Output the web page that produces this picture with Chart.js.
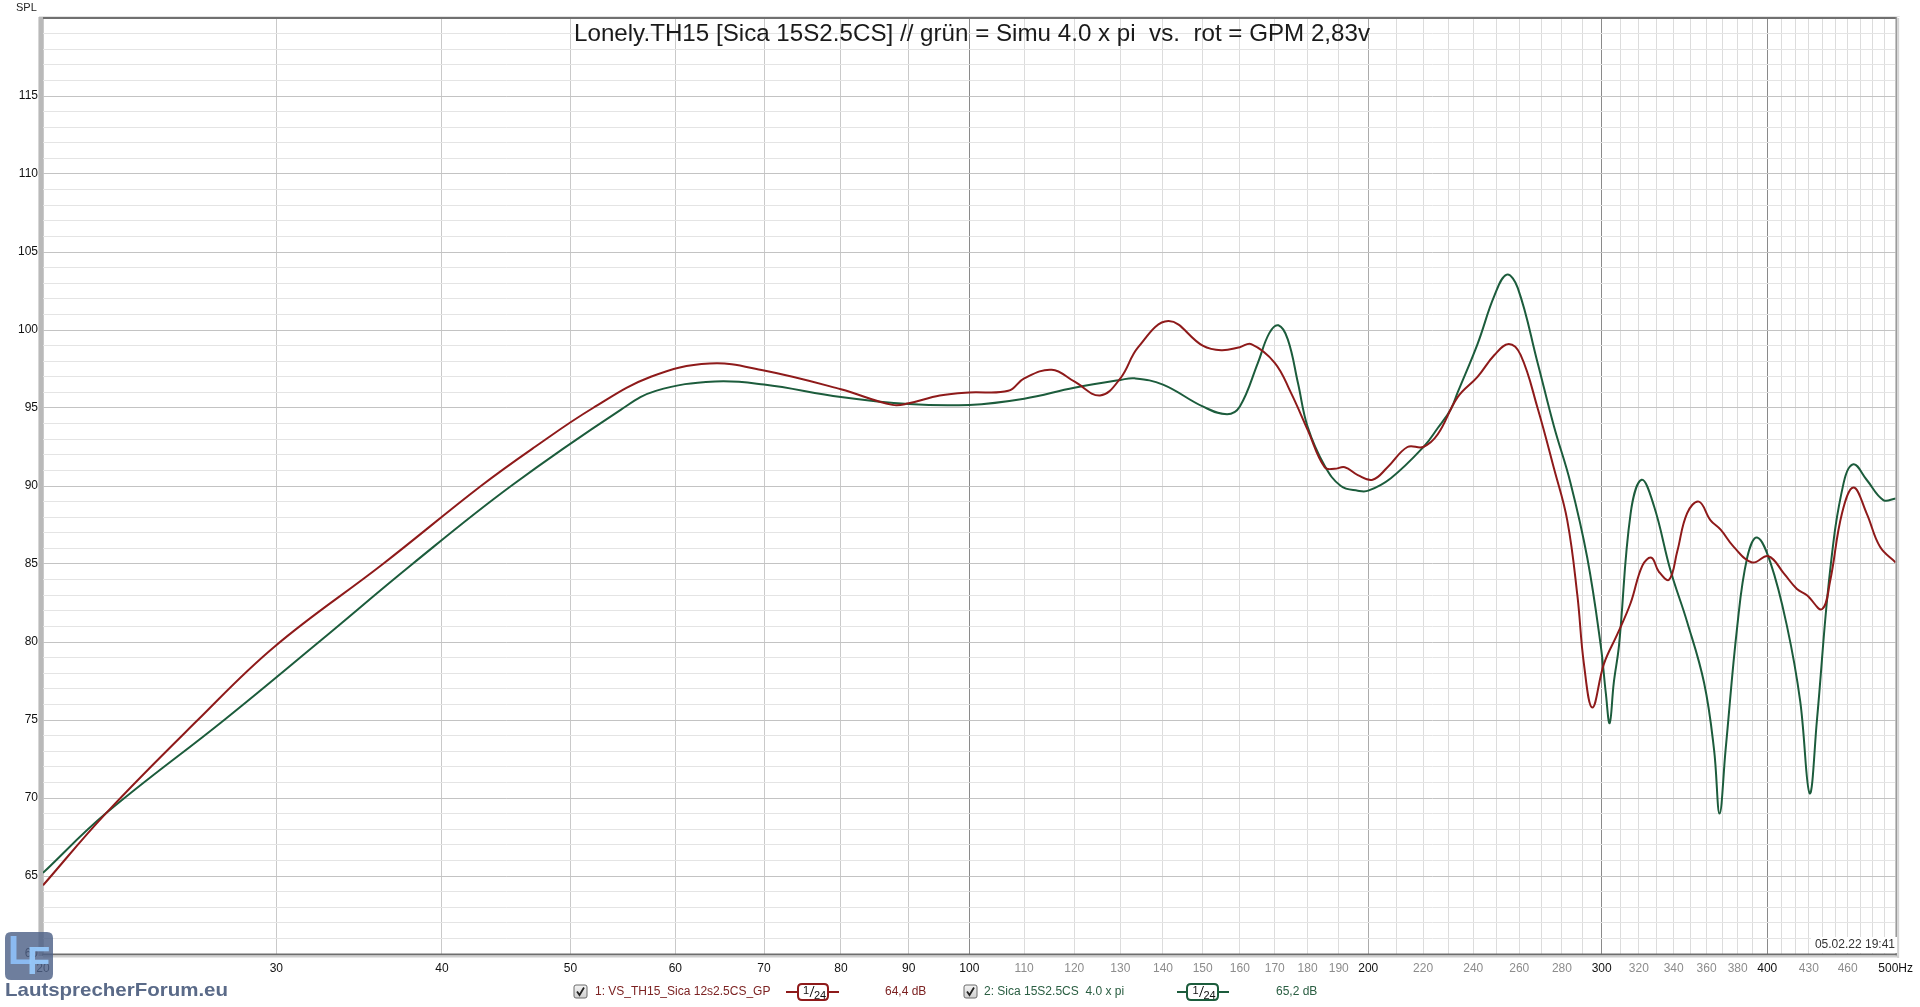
<!DOCTYPE html>
<html><head><meta charset="utf-8">
<script src="https://cdn.jsdelivr.net/npm/chart.js@4.4.0/dist/chart.umd.min.js"></script>
<style>html,body{margin:0;padding:0;background:#fff;overflow:hidden}canvas{display:block}</style>
</head><body>
<canvas id="c" width="1920" height="1007"></canvas>
<script>
// ---- data (Hz, dB SPL) ----
const redFreq = [20,22.3,26.1,29.9,36.1,42.8,47,52,57.5,63.7,70,80,87.5,90,95,100,107,110,115.4,120,125.5,130,134.1,141.3,150,154.9,160,163.2,170,174.8,180,185.4,188.6,192,196.4,201.5,206.8,214.1,220,225.6,233.6,241.8,249,255.3,260.6,268.4,276.2,282.6,287.6,290.9,295.2,301.2,308.3,315.5,322,327.1,331.4,337.3,342.1,348,355.2,362.5,368.9,377.4,389.6,400.9,411.7,421.2,428.6,439.9,446.2,455.5,464.7,475.4,486.6,500];
const redSpl = [64.4,69.0,74.9,79.7,85.0,90.0,92.5,95.0,97.0,97.85,97.4,96.2,95.2,95.3,95.8,96.0,96.1,96.9,97.45,96.7,95.8,96.9,98.9,100.57,99.0,98.7,98.9,99.1,97.9,96.0,93.6,91.2,91.1,91.2,90.7,90.4,91.2,92.5,92.5,93.3,95.7,97.0,98.4,99.1,98.4,95.0,91.1,87.8,83.0,78.6,75.8,78.6,80.5,82.5,84.9,85.4,84.5,84.0,85.8,88.25,89.0,87.8,87.2,86.1,85.1,85.5,84.4,83.4,83.0,82.1,83.9,88.25,89.9,88.25,86.1,85.1];
const greenFreq = [20,22.3,27.4,32.3,38,45.1,54.6,58,64.3,70,80,90,100,110,120,130,133.3,140,150,156.5,160,165.1,168.4,171.1,173.9,177,180,185.4,190.7,196.4,200,208,220.4,225.6,230.8,233.6,241.8,249,254.4,259.3,268.4,276.2,284.2,292.6,299.5,302.2,304.2,306.4,309.2,315.5,321.6,328.6,338.1,348,358.4,364.7,368.2,372.1,379.7,386.3,393,402.2,414,423.6,430.6,436.1,446.2,456.8,464.7,475.4,489.4,500];
const greenSpl = [65.2,69.0,75.0,80.0,85.0,90.0,94.9,96.1,96.7,96.5,95.7,95.25,95.2,95.6,96.3,96.8,96.9,96.5,95.1,94.6,95.1,97.9,99.8,100.3,99.4,96.6,93.8,91.3,90.0,89.7,89.7,90.5,92.55,93.7,94.9,96.0,99.1,102.2,103.55,102.7,97.9,93.8,90.2,85.4,79.8,76.7,74.8,77.4,79.8,88.25,90.4,88.7,84.6,81.3,77.4,73.1,69.0,73.1,81.0,85.4,86.7,85.1,81.0,76.2,70.3,75.0,84.6,90.2,91.4,90.4,89.1,89.2];

// ---- axis ticks ----
const xGridValues = [20,30,40,50,60,70,80,90,100,110,120,130,140,150,160,170,180,190,200,210,220,230,240,250,260,270,280,290,300,310,320,330,340,350,360,370,380,390,400,410,420,430,440,450,460,470,480,490,500];
const xLabelValues = [20,30,40,50,60,70,80,90,100,110,120,130,140,150,160,170,180,190,200,220,240,260,280,300,320,340,360,380,400,430,460,500];
const xLabelTexts  = ['20','30','40','50','60','70','80','90','100','110','120','130','140','150','160','170','180','190','200','220','240','260','280','300','320','340','360','380','400','430','460','500Hz'];
const xStrongValues = [20,30,40,50,60,70,80,90,100,200,300,400,500];
const yLabelValues = [60,65,70,75,80,85,90,95,100,105,110,115];
const yMin = 60, yMax = 120;

const titleText = 'Lonely.TH15 [Sica 15S2.5CS] // grün = Simu 4.0 x pi  vs.  rot = GPM 2,83v';
const series1Name = '1: VS_TH15_Sica 12s2.5CS_GP';
const series2Name = '2: Sica 15S2.5CS  4.0 x pi';
const series1Value = '64,4 dB';
const series2Value = '65,2 dB';
const smoothingText = ['1', '24'];
const dateText = '05.02.22 19:41';
const yAxisTitle = 'SPL';
const siteText = 'LautsprecherForum.eu';

const RED = '#8e1a1a', GREEN = '#1c5c3c';
const FONT = '"Liberation Sans", Arial, sans-serif';

const xLabelMap = {};
xLabelValues.forEach((v, i) => { xLabelMap[v] = xLabelTexts[i]; });

function xGridColor(v) {
  if (v === 100 || v === 300 || v === 400) return '#8a8a8a';
  if (v === 200) return '#ababab';
  if (v < 100) return '#c9c9c9';
  return '#dcdcdc';
}

function rrect(ctx, x, y, w, h, r) {
  ctx.beginPath();
  ctx.moveTo(x + r, y);
  ctx.lineTo(x + w - r, y); ctx.quadraticCurveTo(x + w, y, x + w, y + r);
  ctx.lineTo(x + w, y + h - r); ctx.quadraticCurveTo(x + w, y + h, x + w - r, y + h);
  ctx.lineTo(x + r, y + h); ctx.quadraticCurveTo(x, y + h, x, y + h - r);
  ctx.lineTo(x, y + r); ctx.quadraticCurveTo(x, y, x + r, y);
  ctx.closePath();
}

function drawCheckbox(ctx, x, y) {
  const g = ctx.createLinearGradient(x, y, x, y + 13);
  g.addColorStop(0, '#f4f4f4'); g.addColorStop(1, '#cfcfcf');
  rrect(ctx, x, y, 13, 13, 2);
  ctx.fillStyle = g; ctx.fill();
  ctx.strokeStyle = '#6a6a6a'; ctx.lineWidth = 1; ctx.stroke();
  ctx.beginPath();
  ctx.moveTo(x + 3, y + 6.5); ctx.lineTo(x + 5.5, y + 10); ctx.lineTo(x + 10, y + 2.5);
  ctx.strokeStyle = '#222'; ctx.lineWidth = 1.8; ctx.stroke();
}

function drawSmoothSymbol(ctx, x1, x2, bx1, bx2, y, color) {
  ctx.strokeStyle = color; ctx.lineWidth = 2;
  ctx.beginPath(); ctx.moveTo(x1, y); ctx.lineTo(x2, y); ctx.stroke();
  rrect(ctx, bx1, y - 8, bx2 - bx1, 16, 4);
  ctx.fillStyle = '#fff'; ctx.fill();
  ctx.lineWidth = 2; ctx.stroke();
  ctx.fillStyle = '#111';
  ctx.textBaseline = 'alphabetic'; ctx.textAlign = 'left';
  const cx = (bx1 + bx2) / 2;
  ctx.font = '11px ' + FONT;
  ctx.fillText(smoothingText[0], cx - 10, y + 2);
  ctx.beginPath(); ctx.moveTo(cx - 3, y + 5); ctx.lineTo(cx + 1, y - 6);
  ctx.strokeStyle = '#111'; ctx.lineWidth = 1; ctx.stroke();
  ctx.fillText(smoothingText[1], cx + 1, y + 7);
}

const decor = {
  id: 'decor',
  beforeDraw(chart) {
    const ctx = chart.ctx;
    ctx.save(); ctx.fillStyle = '#fff'; ctx.fillRect(0, 0, chart.width, chart.height); ctx.restore();
  },
  afterDraw(chart) {
    const ctx = chart.ctx;
    const a = chart.chartArea;
    ctx.save();
    // frame
    ctx.fillStyle = '#e4e4e4'; ctx.fillRect(a.left - 4, a.top - 2, a.right - a.left + 8, 1);
    ctx.fillStyle = '#707070'; ctx.fillRect(a.left - 3, a.top - 1, a.right - a.left + 4, 2);
    ctx.fillStyle = '#b9b9b9'; ctx.fillRect(a.left - 4, a.top - 1, 4, a.bottom - a.top + 3);
    ctx.fillStyle = '#d6d6d6'; ctx.fillRect(a.left - 5, a.top - 1, 1, a.bottom - a.top + 3);
    ctx.fillStyle = '#9a9a9a'; ctx.fillRect(a.right, a.top - 1, 1.5, a.bottom - a.top + 3);
    ctx.fillStyle = '#d4d4d4'; ctx.fillRect(a.right + 1.5, a.top, 2, a.bottom - a.top + 4);
    ctx.fillStyle = '#6e6e6e'; ctx.fillRect(a.left - 1, a.bottom - 0.5, a.right - a.left + 2, 2);
    ctx.fillStyle = '#cfcfcf'; ctx.fillRect(a.left, a.bottom + 1.5, a.right - a.left + 3, 2);

    // title
    ctx.font = '21px ' + FONT;
    ctx.fillStyle = '#1a1a1a';
    ctx.textAlign = 'left'; ctx.textBaseline = 'alphabetic';
    const tw = ctx.measureText(titleText).width;
    const sx = 796 / tw;
    ctx.save(); ctx.translate(574, 41); ctx.scale(sx, 1.1); ctx.fillText(titleText, 0, 0); ctx.restore();

    // SPL
    ctx.font = '11px ' + FONT; ctx.fillStyle = '#222';
    ctx.textBaseline = 'middle';
    ctx.fillText(yAxisTitle, 16, 8);

    // date stamp
    ctx.fillStyle = '#fff'; ctx.fillRect(1811, 937, 86, 16);
    ctx.font = '12px ' + FONT; ctx.fillStyle = '#333'; ctx.textAlign = 'right';
    ctx.fillText(dateText, 1895, 945);

    // legend row
    ctx.textAlign = 'left'; ctx.textBaseline = 'middle';
    drawCheckbox(ctx, 574, 985);
    ctx.font = '12px ' + FONT; ctx.fillStyle = '#7c2222';
    ctx.fillText(series1Name, 595, 992);
    drawSmoothSymbol(ctx, 786, 839, 798, 828, 992, RED);
    ctx.textBaseline = 'middle'; ctx.font = '12px ' + FONT; ctx.fillStyle = '#7c2222';
    ctx.fillText(series1Value, 885, 992);
    drawCheckbox(ctx, 964, 985);
    ctx.fillStyle = '#2a5e42';
    ctx.fillText(series2Name, 984, 992);
    drawSmoothSymbol(ctx, 1177, 1229, 1187, 1218, 992, GREEN);
    ctx.textBaseline = 'middle'; ctx.font = '12px ' + FONT; ctx.fillStyle = '#2a5e42';
    ctx.fillText(series2Value, 1276, 992);

    // logo
    rrect(ctx, 5, 932, 48, 48, 6);
    ctx.fillStyle = 'rgba(78,98,135,0.82)'; ctx.fill();
    ctx.textBaseline = 'top'; ctx.textAlign = 'left';
    ctx.font = 'bold 40px ' + FONT; ctx.fillStyle = 'rgba(140,190,245,0.95)';
    ctx.fillText('L', 8, 933);
    ctx.font = 'bold 38px ' + FONT; ctx.fillStyle = 'rgba(150,200,250,0.95)';
    ctx.fillText('F', 27, 945);
    // site text
    ctx.font = 'bold 19px ' + FONT;
    const sw = ctx.measureText(siteText).width;
    ctx.save(); ctx.translate(5, 981); ctx.scale(223 / sw, 1);
    ctx.fillStyle = '#5a6a88'; ctx.fillText(siteText, 0, 0); ctx.restore();
    ctx.restore();
  }
};

const chart = new Chart(document.getElementById('c'), {
  type: 'line',
  data: {
    datasets: [
      { label: series1Name, data: redFreq.map((f, i) => ({ x: f, y: redSpl[i] })),
        borderColor: RED, borderWidth: 2, pointRadius: 0, tension: 0.4, fill: false },
      { label: series2Name, data: greenFreq.map((f, i) => ({ x: f, y: greenSpl[i] })),
        borderColor: GREEN, borderWidth: 2, pointRadius: 0, tension: 0.4, fill: false }
    ]
  },
  options: {
    responsive: false, animation: false, devicePixelRatio: 1,
    layout: { padding: { left: 0, top: 18, right: 22, bottom: 0 } },
    plugins: { legend: { display: false }, title: { display: false }, tooltip: { enabled: false } },
    scales: {
      x: {
        type: 'logarithmic', min: 20, max: 500,
        afterBuildTicks: s => { s.ticks = xGridValues.map(v => ({ value: v })); },
        afterFit: s => { s.height = 53; },
        border: { display: false },
        grid: { drawTicks: false, lineWidth: 1, color: c => xGridColor(c.tick ? c.tick.value : 0) },
        ticks: {
          autoSkip: false, maxRotation: 0, minRotation: 0, padding: 7,
          font: { family: '"Liberation Sans", Arial, sans-serif', size: 12 },
          color: c => xStrongValues.includes(c.tick.value) ? '#111' : '#8c8c8c',
          callback: v => (xLabelMap[v] !== undefined ? xLabelMap[v] : '')
        }
      },
      y: {
        type: 'linear', min: yMin, max: yMax,
        afterBuildTicks: s => { const t = []; for (let v = yMin; v <= yMax; v++) t.push({ value: v }); s.ticks = t; },
        afterFit: s => { s.width = 43; },
        border: { display: false },
        grid: { drawTicks: false, lineWidth: 1, color: c => (c.tick && c.tick.value % 5 === 0) ? '#c3c3c3' : '#e4e4e4' },
        ticks: {
          autoSkip: false, padding: 5,
          font: { family: '"Liberation Sans", Arial, sans-serif', size: 12 },
          color: '#111',
          callback: v => (yLabelValues.includes(v) ? String(v) : '')
        }
      }
    }
  },
  plugins: [decor]
});
</script>
</body></html>
